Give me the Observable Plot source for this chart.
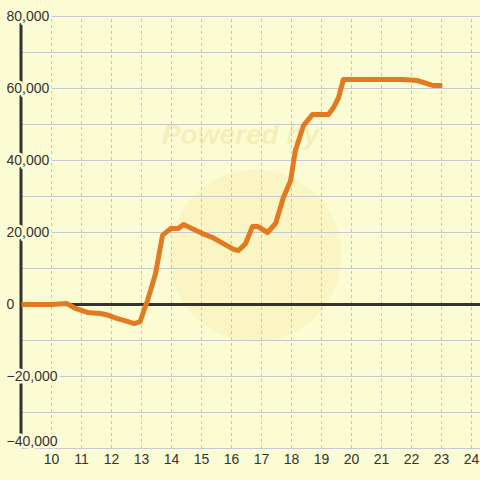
<!DOCTYPE html>
<html>
<head>
<meta charset="utf-8">
<script src="https://cdn.jsdelivr.net/npm/d3@7"></script>
<script src="https://cdn.jsdelivr.net/npm/@observablehq/plot@0.6"></script>
<style>
  html, body { margin: 0; padding: 0; background: #fcfcd4; }
  #chart svg { display: block; }
</style>
</head>
<body>
<div id="chart"></div>
<script>
// Series (x = hour, y = value)
const hours = [9.0, 10.0, 10.5, 10.8, 11.2, 11.63, 11.9, 12.2, 12.53, 12.75, 12.95, 13.2, 13.47, 13.7, 13.97, 14.23, 14.4, 15.03, 15.37, 15.73, 16.07, 16.23, 16.47, 16.7, 16.87, 17.2, 17.47, 17.73, 17.97, 18.13, 18.4, 18.7, 19.23, 19.4, 19.57, 19.73, 21.73, 22.2, 22.4, 22.73, 23.03];
const values = [0, 0, 300, -1100, -2200, -2500, -3000, -3900, -4700, -5300, -4800, 1100, 8600, 19200, 21100, 21100, 22200, 19700, 18600, 16900, 15300, 15000, 16900, 21700, 21700, 20000, 22500, 29700, 34400, 42800, 49700, 52800, 52800, 54700, 57500, 62500, 62500, 62200, 61700, 60800, 60800];

const xTicks = [10, 11, 12, 13, 14, 15, 16, 17, 18, 19, 20, 21, 22, 23, 24];
const yGrid = [-40000, -30000, -20000, -10000, 0, 10000, 20000, 30000, 40000, 50000, 60000, 70000, 80000];
const yTicks = [-20000, 0, 20000, 40000, 60000, 80000];
const yTickBottom = [-40000];

const data = hours.map((h, i) => ({x: h, y: values[i]}));
const bg = "#fcfcd4";
const fmt = d3.format(",");
const labelStyle = {frameAnchor: "left", dx: -15, textAnchor: "start", text: d => fmt(d), fontSize: 14, fill: "#333333", stroke: bg, strokeWidth: 5};

const chart = Plot.plot({
  width: 480,
  height: 480,
  marginLeft: 21,
  marginRight: 0,
  marginTop: 16,
  marginBottom: 32,
  style: {background: bg, fontFamily: "Liberation Sans, Arial, sans-serif"},
  x: {domain: [9, 24.3], axis: null},
  y: {domain: [-40000, 80000], axis: null},
  marks: [
    // watermark
    Plot.dot([0], {x: () => 16.8, y: () => 13600, r: 86, fill: "#f8eeb0", fillOpacity: 0.5, stroke: "none"}),
    Plot.text(["Powered by"], {x: () => 16.3, y: () => 47000, text: d => d, fontSize: 28, fontWeight: "bold", fontStyle: "italic", fill: "#f3e6a8", fillOpacity: 0.6}),
    // grid
    Plot.ruleY(yGrid, {stroke: "#c8c8d0", strokeWidth: 1}),
    Plot.ruleX(xTicks, {y1: -40000, y2: 80000, stroke: "#c4c4cc", strokeWidth: 1, strokeDasharray: "3,3"}),
    // axes lines
    Plot.ruleY([0], {stroke: "#333333", strokeWidth: 3}),
    Plot.ruleX([9], {y1: -40000, y2: 80000, stroke: "#333333", strokeWidth: 3, dx: -0.5}),
    // y labels (masking the axis and grid behind them)
    Plot.text(yTicks, {y: d => d, ...labelStyle}),
    Plot.text(yTickBottom, {y: d => d, ...labelStyle, dy: -7}),
    // series
    Plot.line(data, {x: "x", y: "y", stroke: "#e27a22", strokeWidth: 5, strokeLinejoin: "round", strokeLinecap: "butt"}),
    // x labels
    Plot.text(xTicks, {x: d => d, frameAnchor: "bottom", dy: 15, text: d => String(d), fontSize: 14, fill: "#333333"})
  ]
});
document.getElementById("chart").appendChild(chart);
</script>
</body>
</html>
